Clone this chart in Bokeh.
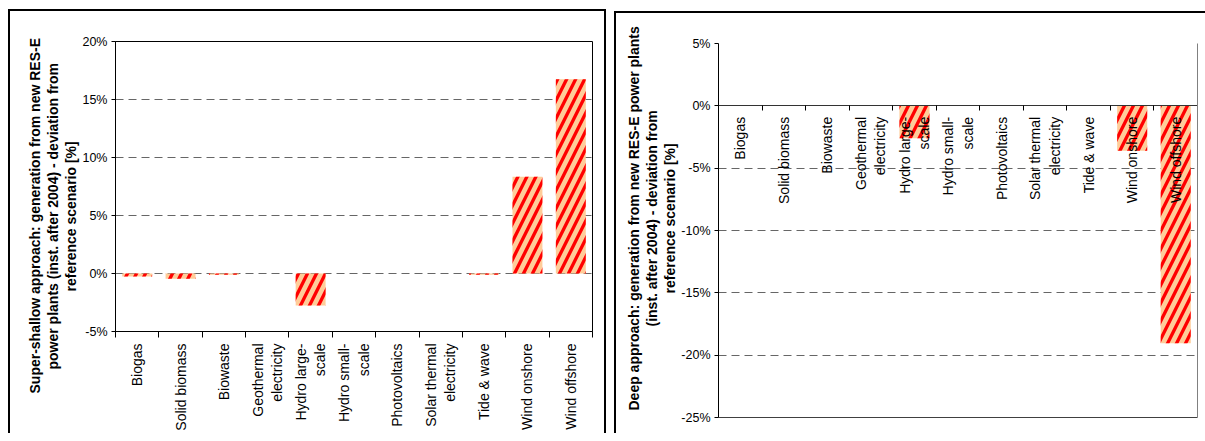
import math
from bokeh.plotting import figure
from bokeh.models import Range1d, FixedTicker, PrintfTickFormatter, Title, LinearAxis, ColumnDataSource
from bokeh.core.properties import value
from bokeh.layouts import row
from bokeh.embed import file_html
from bokeh.resources import INLINE

# ---------------- data ----------------
categories = ["Biogas", "Solid biomass", "Biowaste", "Geothermal\nelectricity",
              "Hydro large-\nscale", "Hydro small-\nscale", "Photovoltaics",
              "Solar thermal\nelectricity", "Tide & wave", "Wind onshore", "Wind offshore"]
shallow_values = [-0.25, -0.45, -0.1, 0.0, -2.75, 0.0, 0.0, 0.0, -0.1, 8.35, 16.75]
deep_values = [0.0, 0.0, 0.0, 0.0, -2.6, 0.0, 0.0, 0.0, 0.0, -3.6, -19.05]
shallow_ticks = [-5, 0, 5, 10, 15, 20]
deep_ticks = [-25, -20, -15, -10, -5, 0, 5]
shallow_title_lines = ["Super-shallow approach: generation from new RES-E",
                       "power plants (inst. after 2004) - deviation from",
                       "reference scenario [%]"]
deep_title_lines = ["Deep approach: generation from new RES-E power plants",
                    "(inst. after 2004) - deviation from",
                    "reference scenario [%]"]

FONT = "Liberation Sans"
n = len(categories)
centers = [2 * i + 1 for i in range(n)]
bounds = [2 * i for i in range(n + 1)]


def config_xaxis(ax):
    ax.ticker = FixedTicker(ticks=centers, minor_ticks=bounds)
    ax.major_label_overrides = {c: lab for c, lab in zip(centers, categories)}
    ax.major_label_orientation = math.pi / 2
    ax.major_tick_line_color = None
    ax.minor_tick_line_color = "black"
    ax.minor_tick_in = 0
    ax.minor_tick_out = 6
    ax.major_label_text_font = FONT
    ax.major_label_text_font_size = "14px"
    ax.major_label_text_color = "black"
    ax.major_label_standoff = 6
    ax.axis_line_color = "black"


def config_yaxis(ax, ticks):
    ax.ticker = FixedTicker(ticks=ticks)
    ax.formatter = PrintfTickFormatter(format="%d%%")
    ax.major_tick_in = 0
    ax.major_tick_out = 4
    ax.major_tick_line_color = "black"
    ax.minor_tick_line_color = None
    ax.major_label_text_font = FONT
    ax.major_label_text_font_size = "12.5px"
    ax.major_label_text_color = "black"
    ax.major_label_standoff = 4
    ax.axis_line_color = "black"


def add_bars(p, values):
    src = ColumnDataSource(dict(x=centers, v=values))
    p.vbar(x="x", top="v", bottom=0, width=1.38, source=src,
           fill_color="#FFCC99", line_color=None,
           hatch_pattern="/", hatch_color="#FF0000", hatch_weight=3.3, hatch_scale=18)


def add_side_title(p, lines, offsets):
    # innermost line first, so later lines sit further out
    for text, off in reversed(list(zip(lines, offsets))):
        p.add_layout(Title(text=text, align="left", offset=off, vertical_align="middle",
                           text_font=FONT, text_font_size="14px", text_font_style="bold",
                           text_color="black", standoff=0), "left")


def no_frame_align(p):
    try:
        p.frame_align = False
    except Exception:
        pass


# ---------------- left panel ----------------
p1 = figure(width=594, height=422, x_range=Range1d(0, 22), y_range=Range1d(-5, 20),
            output_backend="svg", toolbar_location=None,
            min_border_left=105, min_border_right=12, min_border_top=30, min_border_bottom=101)
p1.margin = (11, 0, 0, 10)
no_frame_align(p1)
p1.outline_line_color = "black"
p1.xgrid.visible = False
p1.ygrid.ticker = FixedTicker(ticks=shallow_ticks)
p1.ygrid.grid_line_color = "#666666"
p1.ygrid.grid_line_dash = "8 5"
config_xaxis(p1.xaxis[0])
config_yaxis(p1.yaxis[0], shallow_ticks)
add_bars(p1, shallow_values)
add_side_title(p1, shallow_title_lines, [-62, -38, 40])
p1.styles = {"box-shadow": "-2px 0 0 0 #000, 2px 0 0 0 #000, 0 -2px 0 0 #000, "
                           "-2px -2px 0 0 #000, 2px -2px 0 0 #000"}

# ---------------- right panel ----------------
p2 = figure(width=589, height=420, x_range=Range1d(0, 22), y_range=Range1d(-25, 5),
            output_backend="svg", toolbar_location=None,
            min_border_left=102, min_border_right=8, min_border_top=30, min_border_bottom=16)
p2.margin = (13, 0, 0, 12)
no_frame_align(p2)
p2.outline_line_color = None
p2.xgrid.visible = False
p2.ygrid.ticker = FixedTicker(ticks=deep_ticks)
p2.ygrid.grid_line_color = "#666666"
p2.ygrid.grid_line_dash = "8 5"

# bottom frame line (no ticks)
xb = p2.xaxis[0]
xb.ticker = FixedTicker(ticks=[])
xb.axis_line_color = "#404040"
xb.major_tick_line_color = None
xb.minor_tick_line_color = None
xb.major_label_standoff = 0

# category axis line crossing at 0%
zero_axis = LinearAxis(ticker=FixedTicker(ticks=[], minor_ticks=bounds),
                       fixed_location=0, axis_line_color="#333333",
                       major_tick_line_color=None, minor_tick_line_color="black",
                       minor_tick_in=0, minor_tick_out=5, major_label_standoff=0)
p2.add_layout(zero_axis, "below")

right_line = LinearAxis(ticker=FixedTicker(ticks=[]), axis_line_color="#808080",
                        major_tick_line_color=None, minor_tick_line_color=None,
                        major_label_standoff=0)
p2.add_layout(right_line, "right")

config_yaxis(p2.yaxis[0], deep_ticks)
add_bars(p2, deep_values)

label_src = ColumnDataSource(dict(x=centers, label=categories))
p2.text(x="x", y=0, text="label", source=label_src, angle=math.pi / 2,
        text_align="right", text_baseline="middle", y_offset=11,
        text_font=value(FONT), text_font_size=value("14px"), text_color="black")

add_side_title(p2, deep_title_lines, [7, 91, 124])
p2.styles = {"box-shadow": "-2px 0 0 0 #000, 0 -2px 0 0 #000, -2px -2px 0 0 #000"}

layout = row(p1, p2)
open("out.html", "w").write(file_html(layout, INLINE))
